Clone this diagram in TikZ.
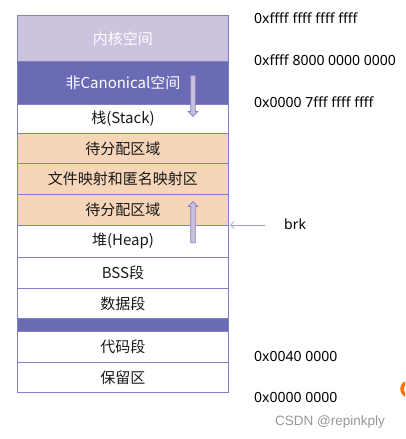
\documentclass[tikz,border=0pt]{standalone}
\usepackage{fontspec}
\setmainfont{Noto Sans CJK SC}
\newfontfamily\addrfont{Noto Sans}
\newfontfamily\markfont{Liberation Sans}
\usetikzlibrary{%
        arrows.meta,
        shapes.arrows
    }
\definecolor{rowline}{RGB}{128, 128, 200}
\definecolor{kernel}{RGB}{204, 195, 222}
\definecolor{noncanon}{RGB}{107, 107, 181}
\definecolor{unmapped}{RGB}{246, 213, 184}
\definecolor{growfill}{RGB}{200, 190, 222}
\definecolor{mark}{RGB}{150, 150, 150}
\tikzset{%
    memrow/.style={%
        draw=rowline, line width=0.9pt, minimum width=211pt,
        minimum height=#1, anchor=north west, inner sep=0pt,
        text=black!90, font=\fontsize{15}{17}\selectfont
    },
    addr/.style={anchor=west, inner sep=0pt,
        font=\addrfont\fontsize{14}{16}\selectfont},
    growarrow/.style={%
        single arrow, draw=rowline, fill=growfill, line width=0.7pt,
        minimum height=41pt, inner sep=2pt,
        single arrow head extend=2.5pt, anchor=tail
    }
}

\begin{document}
\begin{tikzpicture}[x=1pt, y=-1pt]

    \useasboundingbox (0, 0) rectangle (405, 439);
    \clip (0, 0) rectangle (405, 439);

    % Memory layout
    \node[memrow=46pt, fill=kernel, text=white] (kernel) at (17, 15) {内核空间};
    \node[memrow=43pt, fill=noncanon, text=white] (noncanon) at (17, 61)
        {非Canonical空间};
    \node[memrow=29pt] (stack) at (17, 104) {栈(Stack)};
    \node[memrow=30pt, fill=unmapped] (free1) at (17, 133) {待分配区域};
    \node[memrow=31pt, fill=unmapped] (mmap) at (17, 163)
        {文件映射和匿名映射区};
    \node[memrow=31pt, fill=unmapped] (free2) at (17, 194) {待分配区域};
    \node[memrow=32pt] (heap) at (17, 225) {堆(Heap)};
    \node[memrow=31pt] (bss) at (17, 257) {BSS段};
    \node[memrow=30pt] (data) at (17, 288) {数据段};
    \node[memrow=13pt, fill=noncanon] (gap) at (17, 318) {};
    \node[memrow=31pt] (code) at (17, 331) {代码段};
    \node[memrow=30pt] (reserved) at (17, 362) {保留区};

    % Growth directions
    \node[growarrow, rotate=-90] (stackgrow) at (193, 75) {};
    \node[growarrow, rotate=90] (heapgrow) at (193, 243) {};

    % Addresses
    \node[addr] (addr1) at (254, 18) {0xffff ffff ffff ffff};
    \node[addr] (addr2) at (254, 60) {0xffff 8000 0000 0000};
    \node[addr] (addr3) at (254, 102) {0x0000 7fff ffff ffff};
    \node[addr] (addr4) at (254, 356) {0x0040 0000};
    \node[addr] (addr5) at (254, 397) {0x0000 0000};

    % brk pointer
    \node[addr] (brk) at (284, 224) {brk};
    \coordinate (brktail) at (265, 225);
    \draw[-{Straight Barb[length=4pt, width=7pt]}, draw=rowline!80,
        line width=0.6pt] (brktail) -- ([xshift=1pt] heap.north east);

    % Watermark
    \node[anchor=west, inner sep=0pt, text=mark,
        font=\markfont\fontsize{13.5}{15}\selectfont] (wmark) at (275, 422)
        {CSDN @repinkply};
    \draw[orange!90!red, line width=3.5pt] (409, 389) circle (7);

\end{tikzpicture}
\end{document}
